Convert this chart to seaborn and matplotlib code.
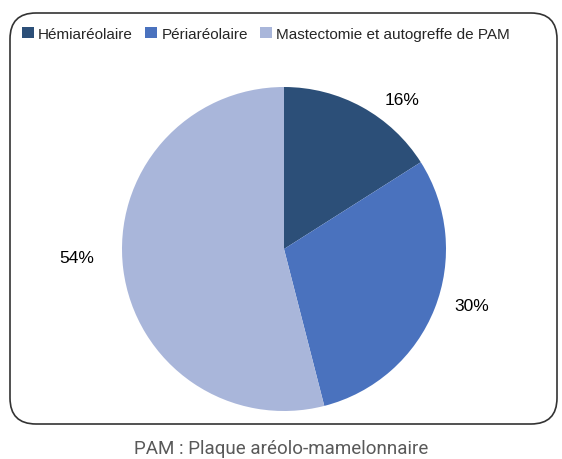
import matplotlib
matplotlib.use("Agg")
import matplotlib.pyplot as plt
from matplotlib.patches import FancyBboxPatch, Patch
import seaborn as sns

# données
categories = ["Hémiaréolaire", "Périaréolaire", "Mastectomie et autogreffe de PAM"]
values = [16, 30, 54]
pct_labels = ["16%", "30%", "54%"]
colors = ["#2C4F78", "#4A72BE", "#A9B6DA"]
caption = "PAM : Plaque aréolo-mamelonnaire"

sns.set_theme(style="white")
plt.rcParams['font.family'] = ['Liberation Sans', 'DejaVu Sans']

fig = plt.figure(figsize=(5.62, 4.6), dpi=100)

# cadre arrondi
bg = fig.add_axes([0, 0, 1, 1])
bg.set_xlim(0, 562)
bg.set_ylim(460, 0)
bg.axis("off")
bg.add_patch(FancyBboxPatch((10, 14), 547, 411, boxstyle="round,pad=0,rounding_size=26",
                            facecolor="white", edgecolor="#333333", linewidth=1.2))

# camembert
ax = fig.add_axes([122 / 562, 48 / 460, 324 / 562, 324 / 460])
wedges, texts = ax.pie(values, colors=colors, startangle=90, counterclock=False,
                       labels=pct_labels, labeldistance=1.2,
                       wedgeprops=dict(linewidth=0),
                       textprops=dict(fontsize=12.5, color="black"))
label_pos = [(0.73, 0.92), (1.16, -0.35), (-1.28, -0.05)]
for t, p in zip(texts, label_pos):
    t.set_position(p)
    t.set_ha("center")
    t.set_va("center")
ax.set_xlim(-1, 1)
ax.set_ylim(-1, 1)
ax.set_aspect("equal")

handles = [Patch(facecolor=c, edgecolor="none") for c in colors]
fig.legend(handles, categories, loc="center", bbox_to_anchor=(266 / 562, 1 - 35 / 460),
           ncol=3, frameon=False, fontsize=11, handlelength=0.75, handleheight=0.75,
           handletextpad=0.3, columnspacing=0.8, borderpad=0, borderaxespad=0)

fig.text(0.5, 1 - 449 / 460, caption, ha="center", va="center", fontsize=13.5,
         color="#595959", family=["Roboto", "DejaVu Sans"])

fig.savefig("out.png", dpi=100)
